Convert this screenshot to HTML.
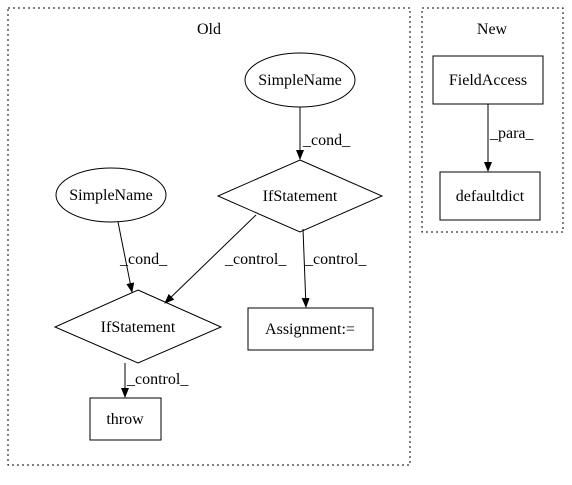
<!DOCTYPE html>
<html><head><meta charset="utf-8"><style>body{margin:0;background:#fff}</style></head><body>
<svg width="572" height="480" viewBox="0 0 572 480" xmlns="http://www.w3.org/2000/svg" font-family="Liberation Serif, serif" font-size="16">
<defs><marker id="a" markerWidth="10" markerHeight="8" refX="9" refY="4" orient="auto" markerUnits="userSpaceOnUse"><path d="M0,0 L10,4 L0,8 z" fill="#000"/></marker></defs>
<rect x="8" y="8" width="402" height="457" fill="none" stroke="#000" stroke-dasharray="2,3"/>
<rect x="422" y="8" width="141" height="224" fill="none" stroke="#000" stroke-dasharray="2,3"/>
<text x="209" y="34" text-anchor="middle">Old</text>
<text x="492" y="34" text-anchor="middle">New</text>
<ellipse cx="300" cy="80" rx="55" ry="27" fill="none" stroke="#000"/>
<text x="300" y="85" text-anchor="middle">SimpleName</text>
<polygon points="300,160 382,196 300,232 218,196" fill="none" stroke="#000"/>
<text x="300" y="201" text-anchor="middle">IfStatement</text>
<ellipse cx="111" cy="195" rx="55" ry="27" fill="none" stroke="#000"/>
<text x="111" y="200" text-anchor="middle">SimpleName</text>
<polygon points="138,290 221,327 138,363 55,327" fill="none" stroke="#000"/>
<text x="138" y="332" text-anchor="middle">IfStatement</text>
<rect x="248" y="308" width="125" height="42" fill="none" stroke="#000"/>
<text x="310" y="334" text-anchor="middle">Assignment:=</text>
<rect x="90" y="398" width="71" height="42" fill="none" stroke="#000"/>
<text x="125" y="424" text-anchor="middle">throw</text>
<rect x="433" y="56" width="110" height="48" fill="none" stroke="#000"/>
<text x="488" y="85" text-anchor="middle">FieldAccess</text>
<rect x="440" y="172" width="100" height="48" fill="none" stroke="#000"/>
<text x="490" y="201" text-anchor="middle">defaultdict</text>
<g stroke="#000" fill="none" marker-end="url(#a)">
<line x1="300" y1="107" x2="300" y2="159"/>
<line x1="118" y1="222" x2="132" y2="292"/>
<line x1="256" y1="215" x2="165" y2="303"/>
<line x1="303" y1="229" x2="306" y2="307"/>
<line x1="125" y1="363" x2="125" y2="397"/>
<line x1="488" y1="104" x2="488" y2="171"/>
</g>
<text x="303" y="145">_cond_</text>
<text x="120" y="264">_cond_</text>
<text x="225" y="264">_control_</text>
<text x="305" y="264">_control_</text>
<text x="127" y="384">_control_</text>
<text x="490" y="138">_para_</text>
</svg>
</body></html>
